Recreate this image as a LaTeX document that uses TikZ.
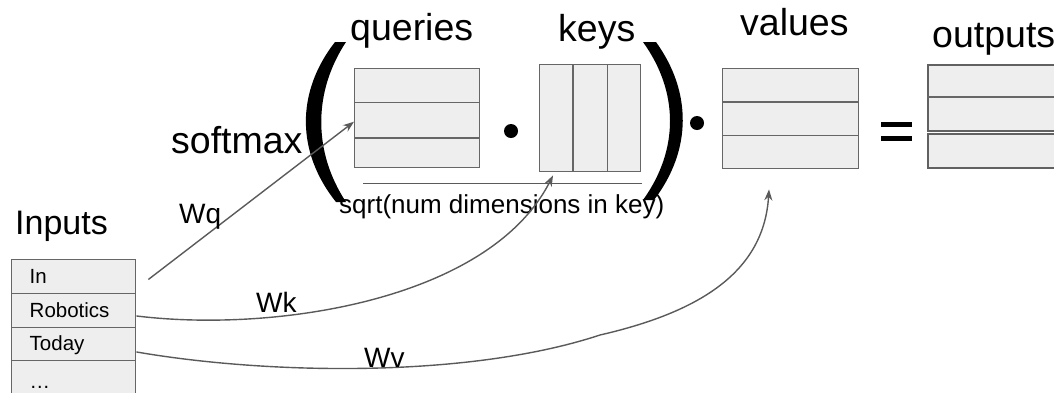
\documentclass[tikz,border=0pt]{standalone}
\usepackage{fontspec}
\setmainfont{Liberation Sans}
\usetikzlibrary{arrows.meta,calc}
\definecolor{cellfill}{HTML}{EEEEEE}
\definecolor{celledge}{HTML}{666666}
\definecolor{wire}{HTML}{5A5A5A}
\begin{document}
\begin{tikzpicture}[x=1pt,y=-1pt,
  mat/.style={draw=celledge, fill=cellfill, line width=1.4pt, inner sep=0pt, anchor=north west},
  sep/.style={draw=celledge, line width=1.4pt},
  rowcell/.style={mat, minimum width=124pt, minimum height=33.5pt, text width=88pt,
    inner xsep=18pt, align=left, text height=14pt, text depth=0pt, font=\fontsize{20.5}{22}\selectfont},
  title/.style={anchor=base west, inner sep=0pt, font=\fontsize{37.5}{40}\selectfont},
  wlabel/.style={anchor=base west, inner sep=0pt, font=\fontsize{28}{30}\selectfont},
  wirearrow/.style={draw=wire, line width=1.4pt, -{Stealth[length=11pt,width=8pt]}},
  bigdot/.style={circle, fill=black, minimum size=14pt, inner sep=0pt},
  paren/.style={fill=black, draw=none}]
\useasboundingbox (0,0) rectangle (1054,392);

% input tokens
\node[title, font=\fontsize{34}{36}\selectfont] (inputs) at (15,234) {Inputs};
\node[rowcell] (in)  at (11,259) {In};
\node[rowcell] (rob) at (11,293) {Robotics};
\node[rowcell] (tod) at (11,326.5) {Today};
\node[rowcell, minimum height=42pt] (more) at (11,360) {…};

% queries matrix
\node[mat, minimum width=125pt, minimum height=99pt] (Q) at (354,68) {};
\draw[sep] ($(Q.north west)!0.343!(Q.south west)$) -- ($(Q.north east)!0.343!(Q.south east)$);
\draw[sep] ($(Q.north west)!0.697!(Q.south west)$) -- ($(Q.north east)!0.697!(Q.south east)$);

% keys matrix (transposed)
\node[mat, minimum width=101pt, minimum height=107pt] (K) at (539,64) {};
\draw[sep] ($(K.north west)!1/3!(K.north east)$) -- ($(K.south west)!1/3!(K.south east)$);
\draw[sep] ($(K.north west)!2/3!(K.north east)$) -- ($(K.south west)!2/3!(K.south east)$);

% values matrix
\node[mat, minimum width=136pt, minimum height=100pt] (V) at (722,68) {};
\draw[sep] ($(V.north west)!1/3!(V.south west)$) -- ($(V.north east)!1/3!(V.south east)$);
\draw[sep] ($(V.north west)!2/3!(V.south west)$) -- ($(V.north east)!2/3!(V.south east)$);

% outputs matrix
\node[mat, line width=2pt, draw=celledge!95!black, minimum width=140pt, minimum height=66pt] (O1) at (927,64) {};
\node[mat, line width=2pt, draw=celledge!95!black, minimum width=140pt, minimum height=34pt] (O2) at (927,133) {};
\draw[sep, line width=2pt] ($(O1.north west)!0.485!(O1.south west)$) -- ($(O1.north east)!0.485!(O1.south east)$);

% operators
\node[bigdot] (dot1) at (511,131) {};
\node[bigdot] (dot2) at (697,123) {};
\fill (881,122) rectangle (912,127);
\fill (881,136) rectangle (912,141);

% scaling fraction line
\draw[draw=wire, line width=1.4pt] ($(Q.south west)+(9,15)$) coordinate (fracL) -- ($(K.south east)+(1,11)$) coordinate (fracR);

% big parentheses
\path[paren] (335,42) .. controls (296,92) and (296,152) .. (336,202)
  -- (346,202) .. controls (313,152) and (313,92) .. (346,42) -- cycle;
\path[paren] (643,42) .. controls (679,92) and (679,150) .. (643,200)
  -- (654,200) .. controls (692,150) and (692,92) .. (656,42) -- cycle;

% labels
\node[title] (lq) at (350,40) {queries};
\node[title] (lk) at (558,41) {keys};
\node[title] (lv) at (740,35) {values};
\node[title] (lo) at (932,47) {outputs};
\node[title] (sm) at (171,153) {softmax};
\node[anchor=base west, inner sep=0pt, font=\fontsize{26}{28}\selectfont] (scale) at (339,213) {sqrt(num dimensions in key)};

% projections
\coordinate (wqstart) at ($(in.east)+(12,3)$);
\draw[wirearrow] (wqstart) -- ($(Q.west)+(0,3.5)$);
\draw[wirearrow] ($(rob.east)+(0,5.5)$) .. controls (275,333) and (490,300) .. ($(K.south west)+(14,3)$);
\draw[wirearrow] ($(tod.east)+(0,8)$) .. controls (270,375) and (470,378) .. (600,335)
  .. controls (700,312) and (764,272) .. ($(V.south west)+(47,20)$);

\node[wlabel] (wq) at (179,223) {Wq};
\node[wlabel] (wk) at (256,312) {Wk};
\node[wlabel] (wv) at (364,367) {Wv};
\end{tikzpicture}
\end{document}
